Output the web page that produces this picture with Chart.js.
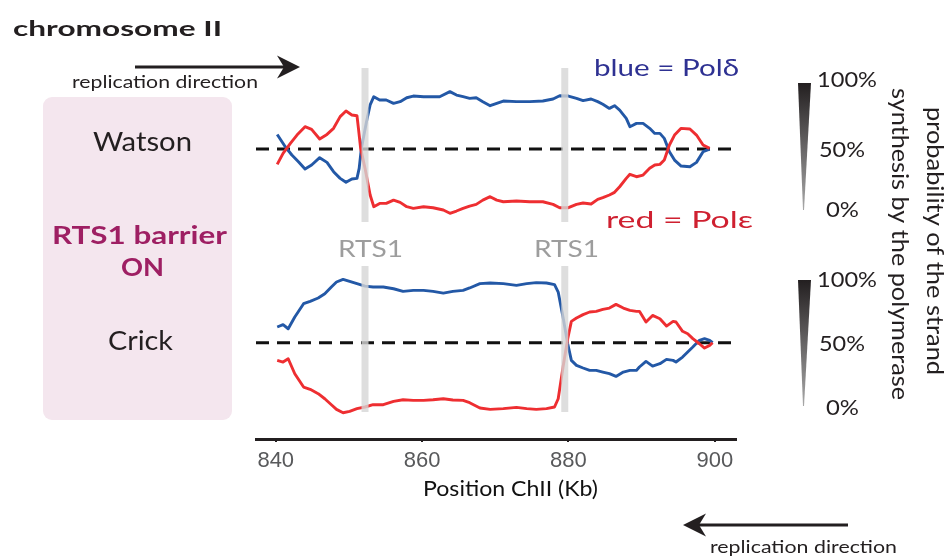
<!DOCTYPE html>
<html>
<head>
<meta charset="utf-8">
<script src="https://cdn.jsdelivr.net/npm/chart.js@4.4.1/dist/chart.umd.min.js"></script>
<style>
  html, body { margin: 0; padding: 0; background: #fff; }
  #wrap { width: 952px; height: 559px; }
</style>
</head>
<body>
<div id="wrap"><canvas id="myChart" width="952" height="559"></canvas></div>
<script>
// x축 눈금 (Kb)
const xTicks = [840, 860, 880, 900];
// RTS1 위치 (Kb)
const rts1Kb = [852.2, 879.5];

// Watson 가닥: [위치 Kb, 확률 %]
const watsonBlue = [
    [840.2,61.5],[841.3,51.8],[842.2,45.3],[843.1,40.0],[844.0,34.3],[844.9,37.4],[846.0,43.2],[847.0,39.5],
    [847.9,32.2],[848.8,26.9],[849.6,23.8],[850.4,26.4],[851.1,26.9],[851.4,34.8],[851.7,50.5],[852.4,71.5],
    [852.9,84.7],[853.4,91.2],[854.2,88.6],[855.1,88.6],[856.1,86.0],[857.0,87.3],[857.9,90.4],[858.8,91.7],
    [860.2,91.2],[861.5,91.2],[862.4,91.2],[863.8,95.2],[864.7,92.5],[865.6,91.2],[866.5,89.9],[867.4,90.4],
    [868.3,87.3],[869.3,84.1],[870.2,86.0],[871.1,87.8],[872.9,87.3],[874.7,87.3],[876.5,87.8],[877.9,89.4],
    [878.8,92.0],[880.0,91.7],[881.1,89.9],[882.0,88.1],[883.1,89.4],[884.0,87.3],[884.7,85.2],[885.6,82.0],
    [886.3,84.1],[887.0,80.7],[887.9,74.2],[888.4,67.6],[889.3,70.2],[890.2,70.2],[891.1,66.3],[891.8,62.3],
    [892.5,62.3],[893.1,58.4],[893.8,47.9],[894.5,41.3],[895.4,36.6],[896.6,36.1],[897.5,39.5],[898.4,47.9],
    [899.3,50.0]
];
const watsonRed = [
    [840.2,37.9],[841.0,46.6],[842.0,54.5],[842.9,61.0],[844.0,67.6],[844.9,65.5],[846.0,57.9],[847.0,61.5],
    [847.9,66.3],[848.8,75.5],[849.6,79.9],[850.4,76.8],[851.1,76.2],[851.3,66.3],[851.6,50.5],[852.2,34.8],
    [852.9,13.8],[853.4,4.6],[854.2,7.2],[855.1,7.2],[856.1,9.8],[857.0,8.0],[857.9,4.6],[858.8,3.3],
    [860.2,4.6],[861.5,3.8],[862.9,2.0],[863.8,-0.6],[864.7,1.2],[865.6,3.3],[866.5,5.1],[867.4,6.4],
    [868.3,9.8],[869.3,12.5],[870.2,9.8],[871.1,8.5],[872.9,9.1],[874.7,8.5],[876.5,8.5],[877.9,6.4],
    [878.8,3.8],[880.0,3.8],[881.1,6.4],[882.0,7.5],[883.1,6.7],[884.0,10.4],[884.7,11.7],[885.6,13.8],
    [886.3,15.9],[887.0,20.3],[887.9,26.9],[888.4,30.1],[889.3,28.2],[890.2,29.5],[891.1,34.8],[891.8,37.4],
    [892.5,37.9],[893.1,41.3],[893.8,53.2],[894.5,61.0],[895.4,66.3],[896.6,65.8],[897.5,61.0],[898.4,53.2],
    [899.3,50.5]
];

// Crick 가닥: [위치 Kb, 확률 %]
const crickBlue = [
    [840.2,62.4],[841.0,64.2],[841.7,61.0],[842.6,70.2],[843.8,80.7],[844.7,82.6],[845.8,85.2],[846.7,88.6],
    [847.6,93.9],[848.3,97.8],[849.2,99.9],[850.1,98.3],[851.1,96.5],[852.2,94.6],[853.3,93.9],[854.7,93.9],
    [856.1,92.5],[857.4,90.4],[858.8,91.2],[860.2,91.2],[861.5,90.4],[862.9,89.1],[864.2,90.4],[865.6,91.2],
    [866.5,93.1],[867.9,96.5],[869.3,97.0],[871.1,96.5],[872.9,95.2],[874.3,96.5],[875.6,97.3],[877.0,97.0],
    [878.1,95.7],[878.6,89.9],[879.3,68.9],[879.9,49.2],[880.4,36.1],[881.1,32.2],[882.0,30.1],[882.9,28.2],
    [883.8,28.2],[884.7,26.9],[885.6,25.6],[886.5,23.5],[887.5,26.9],[888.4,28.2],[889.3,28.2],[889.7,30.9],
    [890.6,35.3],[891.5,31.6],[892.5,33.5],[893.4,36.9],[894.3,36.1],[894.7,34.8],[895.6,38.7],[896.3,42.7],
    [897.0,46.6],[897.9,51.9],[898.6,53.2],[899.3,51.9],[899.7,50.0]
];
const crickRed = [
    [840.2,36.1],[841.0,34.8],[841.7,37.4],[842.6,25.6],[843.8,15.1],[844.7,13.3],[845.8,9.9],[846.7,5.9],
    [847.6,1.2],[848.3,-2.5],[849.2,-5.1],[850.1,-4.0],[851.1,-1.9],[852.2,-0.6],[853.3,1.2],[854.7,1.2],
    [856.1,3.8],[857.4,5.1],[858.8,4.6],[860.2,4.6],[861.5,5.1],[862.9,5.9],[864.2,4.9],[865.6,4.6],
    [866.5,2.8],[867.9,-1.4],[869.3,-2.5],[871.1,-1.9],[872.9,-0.9],[874.3,-1.9],[875.6,-2.5],[877.0,-1.9],
    [878.1,-0.6],[878.6,5.9],[879.3,32.2],[879.9,53.2],[880.4,66.8],[881.1,69.4],[882.0,72.1],[882.9,74.2],
    [883.8,74.7],[884.7,76.3],[885.6,77.3],[886.5,80.2],[887.5,77.3],[888.4,75.5],[889.3,74.7],[889.7,74.7],
    [890.6,66.3],[891.5,71.5],[892.5,68.9],[893.4,63.1],[894.3,66.8],[894.7,66.3],[895.6,59.0],[896.3,57.1],
    [897.0,53.2],[897.9,49.2],[898.6,45.8],[899.3,47.9],[899.7,50.0]
];

// 축 범위와 패널 배치
const X_MIN = 837.3, X_MAX = 902.9;
const WATSON_SHIFT = 152.5;          // Watson 패널을 Crick 위로 올림
const Y_MIN = -25.8, Y_MAX = 272.6;

const BLUE = '#2358a6';
const RED = '#ee2e31';
const INK = '#231f20';
const FONT = 'Lato, "Open Sans", sans-serif';

function toPoints(rows, shift) {
    return rows.map(([x, y]) => ({ x: x, y: y + shift }));
}

function seriesLine(rows, shift, color, order) {
    return {
        data: toPoints(rows, shift),
        borderColor: color,
        borderWidth: 2.9,
        pointRadius: 0,
        tension: 0,
        borderJoinStyle: 'round',
        order: order
    };
}

function midLine(shift) {
    return {
        data: [{ x: X_MIN, y: 50 + shift }, { x: X_MAX, y: 50 + shift }],
        borderColor: '#111',
        borderWidth: 3,
        borderDash: [13, 8],
        pointRadius: 0,
        order: 3
    };
}

function rtsBar(x, top, bottom, shift) {
    return {
        data: [{ x: x, y: top + shift }, { x: x, y: bottom + shift }],
        borderColor: 'rgba(214, 214, 214, 0.8)',
        borderWidth: 7,
        pointRadius: 0,
        order: 0
    };
}

// 글자 그리기 (width를 주면 그 폭에 맞춤)
function text(ctx, str, x, y, o) {
    ctx.save();
    ctx.font = (o.weight || 'normal') + ' ' + o.size + 'px ' + FONT;
    ctx.fillStyle = o.color || INK;
    ctx.textBaseline = 'alphabetic';
    const w = ctx.measureText(str).width;
    const sx = o.width ? o.width / w : 1;
    ctx.translate(x, y);
    if (o.rotate) ctx.rotate(Math.PI / 2);
    ctx.scale(sx, 1);
    ctx.fillText(str, 0, 0);
    ctx.restore();
}

function arrow(ctx, x1, x2, y, dir) {
    // dir: 1 오른쪽, -1 왼쪽
    const tip = dir > 0 ? x2 : x1;
    ctx.save();
    ctx.strokeStyle = INK;
    ctx.fillStyle = INK;
    ctx.lineWidth = 3;
    ctx.beginPath();
    ctx.moveTo(x1 + (dir < 0 ? 15 : 0), y);
    ctx.lineTo(x2 - (dir > 0 ? 15 : 0), y);
    ctx.stroke();
    ctx.beginPath();
    ctx.moveTo(tip, y);
    ctx.lineTo(tip - dir * 23, y - 11.5);
    ctx.lineTo(tip - dir * 16, y);
    ctx.lineTo(tip - dir * 23, y + 11.5);
    ctx.closePath();
    ctx.fill();
    ctx.restore();
}

function wedge(ctx, top, bottom) {
    const g = ctx.createLinearGradient(0, top, 0, bottom);
    g.addColorStop(0, '#231f20');
    g.addColorStop(1, '#a8a8a8');
    ctx.save();
    ctx.fillStyle = g;
    ctx.beginPath();
    ctx.moveTo(798, top);
    ctx.lineTo(811, top);
    ctx.lineTo(804, bottom);
    ctx.lineTo(803, bottom);
    ctx.closePath();
    ctx.fill();
    ctx.restore();
}

function percentScale(ctx, top, bottom, base100, base50, base0) {
    wedge(ctx, top, bottom);
    text(ctx, '100%', 817, base100, { size: 21.5, width: 60 });
    text(ctx, '50%', 819, base50, { size: 21.5, width: 46 });
    text(ctx, '0%', 826, base0, { size: 21.5, width: 33 });
}

// 그림 주석 플러그인
const figureNotes = {
    id: 'figureNotes',
    beforeDraw(chart) {
        const ctx = chart.ctx;
        ctx.save();
        ctx.fillStyle = '#f4e6ee';
        ctx.beginPath();
        ctx.roundRect(43, 97, 189, 323, 9);
        ctx.fill();
        ctx.restore();
    },
    afterDraw(chart) {
        const ctx = chart.ctx;
        text(ctx, 'chromosome II', 13, 36, { size: 21.5, weight: 'bold', width: 209 });
        arrow(ctx, 135, 300, 67, 1);
        text(ctx, 'replication direction', 72, 88, { size: 17, width: 186 });
        arrow(ctx, 683, 848, 525, -1);
        text(ctx, 'replication direction', 710, 553, { size: 17, width: 187 });

        text(ctx, 'Watson', 93, 151, { size: 26.5, width: 99 });
        text(ctx, 'RTS1 barrier', 52, 244, { size: 24.5, weight: 'bold', color: '#9e1f63', width: 175 });
        text(ctx, 'ON', 121, 276, { size: 24.5, weight: 'bold', color: '#9e1f63', width: 43 });
        text(ctx, 'Crick', 108, 350, { size: 26.5, width: 65 });

        text(ctx, 'blue = Pol\u03b4', 594, 76, { size: 22.5, color: '#2e3192', width: 145 });
        text(ctx, 'red = Pol\u03b5', 606, 228, { size: 22.5, color: '#cf2030', width: 147 });

        text(ctx, 'RTS1', 338, 257, { size: 23.5, color: '#9d9d9d', width: 65 });
        text(ctx, 'RTS1', 534, 257, { size: 23.5, color: '#9d9d9d', width: 65 });

        percentScale(ctx, 83, 210, 87, 157, 217);
        percentScale(ctx, 280, 406, 287, 351, 415);

        text(ctx, 'probability of the strand', 927, 107, { size: 22.5, rotate: true, width: 268 });
        text(ctx, 'synthesis by the polymerase', 892, 88, { size: 22.5, rotate: true, width: 312 });

        text(ctx, 'Position ChII (Kb)', 423, 496, { size: 20.5, color: '#111', width: 175 });
    }
};

const ctx = document.getElementById('myChart').getContext('2d');
const myChart = new Chart(ctx, {
    type: 'line',
    data: {
        datasets: [
            rtsBar(rts1Kb[0], 113.8, -7.5, WATSON_SHIFT),
            rtsBar(rts1Kb[1], 113.8, -7.5, WATSON_SHIFT),
            rtsBar(rts1Kb[0], 110.4, -4.6, 0),
            rtsBar(rts1Kb[1], 110.4, -4.6, 0),
            seriesLine(watsonRed, WATSON_SHIFT, RED, 1),
            seriesLine(watsonBlue, WATSON_SHIFT, BLUE, 2),
            seriesLine(crickRed, 0, RED, 1),
            seriesLine(crickBlue, 0, BLUE, 2),
            midLine(WATSON_SHIFT),
            midLine(0)
        ]
    },
    options: {
        responsive: false,
        animation: false,
        events: [],
        layout: {
            padding: { left: 256, right: 216, top: 60, bottom: 0 }
        },
        plugins: {
            legend: { display: false },
            tooltip: { enabled: false }
        },
        scales: {
            x: {
                type: 'linear',
                min: X_MIN,
                max: X_MAX,
                afterBuildTicks: (scale) => {
                    scale.ticks = xTicks.map(v => ({ value: v }));
                },
                afterFit: (scale) => {
                    scale.height = 120;
                },
                grid: {
                    display: true,
                    drawOnChartArea: false,
                    drawTicks: true,
                    tickLength: 3,
                    color: INK,
                    lineWidth: 2
                },
                border: { display: true, color: INK, width: 3 },
                ticks: {
                    color: '#58595b',
                    padding: 6,
                    maxRotation: 0,
                    font: { family: '"Liberation Sans", Arial, sans-serif', size: 22 }
                }
            },
            y: {
                display: false,
                min: Y_MIN,
                max: Y_MAX
            }
        }
    },
    plugins: [figureNotes]
});
</script>
</body>
</html>
